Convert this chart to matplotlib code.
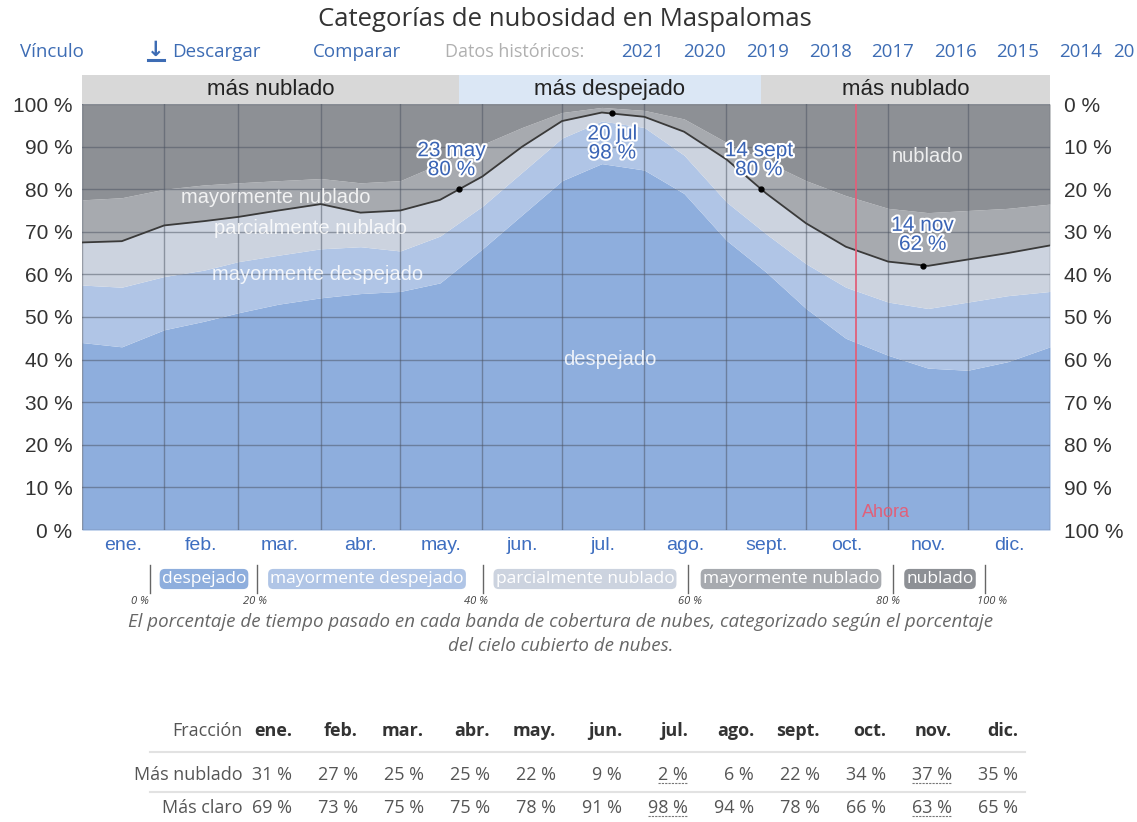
import matplotlib
matplotlib.use('Agg')
from matplotlib import pyplot as plt
from matplotlib import patheffects
from matplotlib.lines import Line2D

# Data: cumulative cloud-cover band boundaries (percent of time), by day of year.
days = [0, 15, 31, 46, 59, 74, 90, 105, 120, 135, 151, 166, 181,
        196, 212, 227, 243, 258, 273, 288, 304, 319, 334, 349, 365]
clear_top = [44, 43, 47, 49, 51, 53, 54.5, 55.5, 56, 58, 66, 74, 82,
             86, 84.5, 79, 68, 60.5, 52, 45, 41, 38, 37.5, 39.5, 43]
mostly_clear_top = [57.5, 57, 59.5, 61, 63, 64.5, 66, 66.5, 65.5, 69, 76, 84, 92,
                    96, 94.5, 88, 77, 69.5, 62.5, 57, 53.5, 52, 53.5, 55, 56]
partly_cloudy_top = [67.5, 67.8, 71.5, 72.5, 73.5, 75, 76.5, 74.5, 75, 77.5, 83, 90, 96,
                     98, 97, 93.5, 87, 79, 72, 66.5, 63, 62, 63.5, 65, 66.8]
mostly_cloudy_top = [77.5, 78, 80, 81, 81.5, 82, 82.5, 81.5, 82, 86, 90.5, 94.5, 98,
                     99.2, 98.5, 96.5, 91, 86.5, 82, 78.5, 75.5, 74.5, 75, 75.5, 76.5]

band_names = ['despejado', 'mayormente despejado', 'parcialmente nublado',
              'mayormente nublado', 'nublado']
band_colors = ['#8eaedd', '#b0c5e6', '#ccd3df', '#a7aaaf', '#8d9095']

month_labels = ['ene.', 'feb.', 'mar.', 'abr.', 'may.', 'jun.',
                'jul.', 'ago.', 'sept.', 'oct.', 'nov.', 'dic.']
month_edges = [0, 31, 59, 90, 120, 151, 181, 212, 243, 273, 304, 334, 365]

# Key points on the "más despejado" line
key_days = [142, 200, 256, 317]
key_values = [80, 98, 80, 62]
key_labels = ['23 may\n80 %', '20 jul\n98 %', '14 sept\n80 %', '14 nov\n62 %']

season_edges = [0, 142, 256, 365]
season_labels = ['más nublado', 'más despejado', 'más nublado']

now_day = 292

years = ['2021', '2020', '2019', '2018', '2017', '2016', '2015', '2014', '20']

table_rows = ['Más nublado', 'Más claro']
table_cloudy = ['31 %', '27 %', '25 %', '25 %', '22 %', '9 %', '2 %',
                '6 %', '22 %', '34 %', '37 %', '35 %']
table_clear = ['69 %', '73 %', '75 %', '75 %', '78 %', '91 %', '98 %',
               '94 %', '78 %', '66 %', '63 %', '65 %']
underlined_cols = [6, 10]

W, H = 1137, 822
fig = plt.figure(figsize=(W / 100, H / 100), dpi=100)
fig.patch.set_facecolor('white')


def fx(x):
    return x / W


def fy(y):
    return 1 - y / H


CHART_FONT = ['Liberation Sans', 'DejaVu Sans']
PAGE_FONT = ['Open Sans', 'DejaVu Sans']

# Main chart axes
left, right, top, bottom = 82, 1050, 104, 530
ax = fig.add_axes([fx(left), fy(bottom), fx(right - left), (bottom - top) / H])
ax.set_xlim(0, 365)
ax.set_ylim(0, 100)

zero = [0] * len(days)
hundred = [100] * len(days)
bounds = [zero, clear_top, mostly_clear_top, partly_cloudy_top, mostly_cloudy_top, hundred]
for i in range(5):
    ax.fill_between(days, bounds[i], bounds[i + 1], color=band_colors[i],
                    lw=0, zorder=1)
ax.plot(days, partly_cloudy_top, color='#3a3a3a', lw=1.3, zorder=3)

# Grid
ax.set_xticks(month_edges)
ax.set_xticks([(month_edges[i] + month_edges[i + 1]) / 2 for i in range(12)], minor=True)
ax.set_xticklabels([])
ax.set_xticklabels(month_labels, minor=True, fontsize=14, color='#3e6ec0',
                   family=CHART_FONT)
ax.tick_params(axis='x', which='both', length=0, pad=5)
ax.set_yticks(range(0, 101, 10))
ax.set_yticklabels(['{} %'.format(v) for v in range(0, 101, 10)],
                   fontsize=15, color='#333333', family=CHART_FONT)
ax.tick_params(axis='y', length=0, pad=7)
ax.grid(True, which='major', color='#4a5260', alpha=0.5, lw=1)
ax.set_axisbelow(False)
for s in ax.spines.values():
    s.set_visible(False)

ax2 = ax.twinx()
ax2.set_ylim(0, 100)
ax2.set_yticks(range(0, 101, 10))
ax2.set_yticklabels(['{} %'.format(100 - v) for v in range(0, 101, 10)],
                    fontsize=15, color='#333333', family=CHART_FONT)
ax2.tick_params(axis='y', length=0, pad=10)
for s in ax2.spines.values():
    s.set_visible(False)

# Key points and labels
halo = [patheffects.withStroke(linewidth=3, foreground='white')]
offsets = [(-7, 29), (0, -31), (-2, 29), (0, 31)]
for d, v, lab, off in zip(key_days, key_values, key_labels, offsets):
    ax.plot([d], [v], 'o', color='black', ms=3.5, zorder=5)
    ax.annotate(lab, xy=(d, v), xytext=off, textcoords='offset pixels',
                ha='center', va='center', fontsize=15, color='#3a64b5',
                family=CHART_FONT, linespacing=1.0, path_effects=halo, zorder=6)

# Band labels
band_label_pos = [(199, 40), (89, 60), (86, 70.8), (73, 78), (319, 87.6)]
for (d, v), name in zip(band_label_pos, band_names):
    ax.text(d, v, name, ha='center', va='center', fontsize=14.5,
            color='white', alpha=0.85, family=CHART_FONT, zorder=4)

# Now marker
ax.axvline(now_day, color='#e0607a', lw=1.3, zorder=4)
ax.text(now_day + 2, 4, 'Ahora', color='#e0607a', fontsize=13,
        family=CHART_FONT, va='center', ha='left', zorder=4)

# Season header band
hax = fig.add_axes([fx(left), fy(top), fx(right - left), 29 / H])
hax.set_xlim(0, 365)
hax.set_ylim(0, 1)
season_colors = ['#d8d8d8', '#dbe7f5', '#d8d8d8']
for i in range(3):
    hax.axvspan(season_edges[i], season_edges[i + 1], color=season_colors[i], lw=0)
    hax.text((season_edges[i] + season_edges[i + 1]) / 2, 0.5, season_labels[i],
             ha='center', va='center', fontsize=16, color='#222222',
             family=CHART_FONT)
hax.axis('off')

# Title and link row
fig.text(0.497, fy(20), 'Categorías de nubosidad en Maspalomas', ha='center',
         va='center', fontsize=18.5, color='#333333', family=PAGE_FONT)
link_color = '#3d6cb4'
fig.text(fx(20), fy(52), 'Vínculo', fontsize=13.5, color=link_color,
         family=PAGE_FONT, va='center')
fig.text(fx(156), fy(50), '↓', fontsize=15, color=link_color,
         family=['DejaVu Sans'], va='center', ha='center', weight='bold')
fig.add_artist(Line2D([fx(148), fx(164)], [fy(60), fy(60)], color=link_color, lw=2.2))
fig.text(fx(172), fy(52), 'Descargar', fontsize=13.5, color=link_color,
         family=PAGE_FONT, va='center')
fig.text(fx(313), fy(52), 'Comparar', fontsize=13.5, color=link_color,
         family=PAGE_FONT, va='center')
fig.text(fx(445), fy(52), 'Datos históricos:', fontsize=13, color='#b0b0b0',
         family=PAGE_FONT, va='center')
for i, yr in enumerate(years):
    fig.text(fx(min(621 + i * 62.6, 1113)), fy(52), yr, fontsize=13.5, color=link_color,
             family=PAGE_FONT, va='center')

# Legend scale
legend_centers = [204, 367, 585, 791, 940]
for c, name, col in zip(legend_centers, band_names, band_colors):
    fig.text(fx(c), fy(579), name, ha='center', va='center', fontsize=12.5,
             color='white', family=PAGE_FONT,
             bbox=dict(boxstyle='round,pad=0.12,rounding_size=0.3', fc=col, ec='none'))
seps = [150, 257, 483, 688, 893, 985]
for sx in seps:
    fig.add_artist(Line2D([fx(sx), fx(sx)], [fy(565), fy(593)], color='#666666', lw=1))
pct_labels = ['0 %', '20 %', '40 %', '60 %', '80 %', '100 %']
pct_x = [140, 255, 476, 690, 888, 992]
for px_, t in zip(pct_x, pct_labels):
    fig.text(fx(px_), fy(601), t, ha='center', va='center', fontsize=8,
             style='italic', color='#444444', family=PAGE_FONT)

# Caption
fig.text(0.493, fy(622), 'El porcentaje de tiempo pasado en cada banda de cobertura de nubes, '
         'categorizado según el porcentaje', ha='center', va='center', fontsize=13.5,
         style='italic', color='#666666', family=PAGE_FONT)
fig.text(0.493, fy(646), 'del cielo cubierto de nubes.', ha='center', va='center',
         fontsize=13.5, style='italic', color='#666666', family=PAGE_FONT)

# Table
col_right = [292 + 66 * k for k in range(12)]
fig.text(fx(243), fy(731), 'Fracción', ha='right', va='center', fontsize=13,
         color='#555555', family=PAGE_FONT)
for xr, m in zip(col_right, month_labels):
    fig.text(fx(xr), fy(731), m, ha='right', va='center', fontsize=13,
             color='#333333', weight='bold', family=PAGE_FONT)
for yl in [752, 792]:
    fig.add_artist(Line2D([fx(150), fx(1025)], [fy(yl), fy(yl)], color='#e2e2e2', lw=1.5))

row_y = [775, 808]
underline_texts = []
for ry, name, vals in zip(row_y, table_rows, [table_cloudy, table_clear]):
    fig.text(fx(243), fy(ry), name, ha='right', va='center', fontsize=13,
             color='#555555', family=PAGE_FONT)
    for k, (xr, v) in enumerate(zip(col_right, vals)):
        t = fig.text(fx(xr), fy(ry), v, ha='right', va='center', fontsize=13,
                     color='#555555', family=PAGE_FONT)
        if k in underlined_cols:
            underline_texts.append(t)

fig.canvas.draw()
renderer = fig.canvas.get_renderer()
for t in underline_texts:
    bb = t.get_window_extent(renderer)
    yb = bb.y0 + 1
    fig.add_artist(Line2D([bb.x0 / W, bb.x1 / W], [yb / H, yb / H],
                          color='#777777', lw=0.8, ls=(0, (2, 1))))

fig.savefig('out.png', dpi=100)
